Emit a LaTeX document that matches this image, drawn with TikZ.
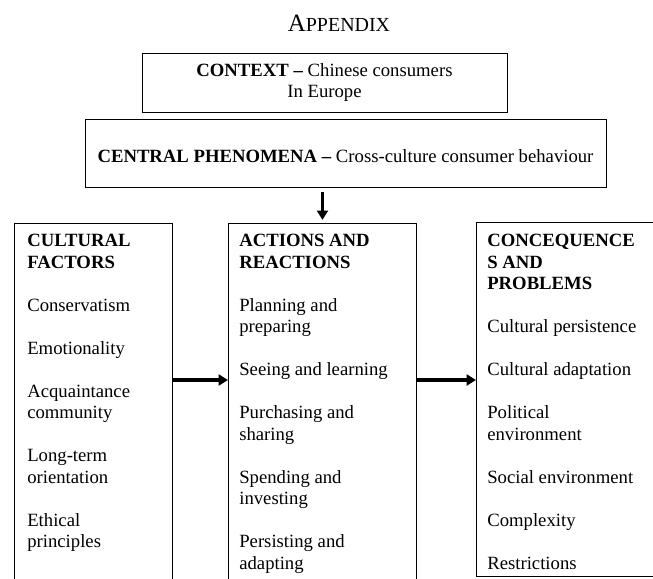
\documentclass[tikz,border=0pt]{standalone}
\usepackage{fontspec}
\setmainfont{Liberation Serif}
\usetikzlibrary{arrows.meta}

% unidad: un pixel de la figura
\def\pxu{0.642pt}

\tikzset{
  panel/.style={draw, line width=0.6pt, rectangle, inner sep=0pt, anchor=north west},
  boxtext/.style={font=\fontsize{12}{13.8}\selectfont, align=left, inner sep=0pt, anchor=north west},
  flowarrow/.style={-{Triangle[length=6pt,width=7pt]}, line width=2pt},
}

\begin{document}
\begin{tikzpicture}[x=\pxu,y=-\pxu]
\useasboundingbox (0,0) rectangle (653,578);
\clip (0,0) rectangle (653,578);

% Titulo
\node[anchor=base, inner sep=0pt] (title) at (339,31)
  {\fontsize{16}{18}\selectfont A\fontsize{12.8}{15}\selectfont PPENDIX};

% Cajas superiores
\node[panel, anchor=center, minimum width=365*\pxu, minimum height=59*\pxu,
      align=center, font=\fontsize{12}{13.8}\selectfont] (context) at (324.5,82.5)
  {\textbf{CONTEXT –} Chinese consumers\\In Europe};
\node[panel, anchor=center, minimum width=521*\pxu, minimum height=68*\pxu,
      text height=11.6pt, text depth=0pt, font=\fontsize{12}{13.8}\selectfont] (central) at (345.5,153)
  {\textbf{CENTRAL PHENOMENA –} Cross-culture consumer behaviour};

% Columnas
\node[panel, minimum width=158*\pxu, minimum height=400*\pxu] (cultural) at (14,223) {};
\node[panel, minimum width=188*\pxu, minimum height=400*\pxu] (actions) at (228,223) {};
\node[panel, minimum width=190*\pxu, minimum height=354*\pxu] (conseq) at (476,222) {};

% Textos de las columnas
\node[boxtext] (culturaltext) at ([xshift=13*\pxu, yshift=-11*\pxu]cultural.north west)
  {\textbf{CULTURAL}\\\textbf{FACTORS}\\[13.8pt]
   Conservatism\\[13.8pt]
   Emotionality\\[13.8pt]
   Acquaintance\\community\\[13.8pt]
   Long-term\\orientation\\[13.8pt]
   Ethical\\principles};
\node[boxtext] (actionstext) at ([xshift=11*\pxu, yshift=-11*\pxu]actions.north west)
  {\textbf{ACTIONS AND}\\\textbf{REACTIONS}\\[13.8pt]
   Planning and\\preparing\\[13.8pt]
   Seeing and learning\\[13.8pt]
   Purchasing and\\sharing\\[13.8pt]
   Spending and\\investing\\[13.8pt]
   Persisting and\\adapting};
\node[boxtext] (conseqtext) at ([xshift=11*\pxu, yshift=-12*\pxu]conseq.north west)
  {\textbf{CONCEQUENCE}\\\textbf{S AND}\\\textbf{PROBLEMS}\\[13.8pt]
   Cultural persistence\\[13.8pt]
   Cultural adaptation\\[13.8pt]
   Political\\environment\\[13.8pt]
   Social environment\\[13.8pt]
   Complexity\\[13.8pt]
   Restrictions};

% Flechas
\coordinate (flowline) at (0,380);
\draw[flowarrow, shorten <=3pt, shorten >=2pt] (central.south -| actions.north) -- (actions.north);
\draw[flowarrow] (cultural.east |- flowline) -- (actions.west |- flowline);
\draw[flowarrow] (actions.east |- flowline) -- (conseq.west |- flowline);
\end{tikzpicture}
\end{document}
